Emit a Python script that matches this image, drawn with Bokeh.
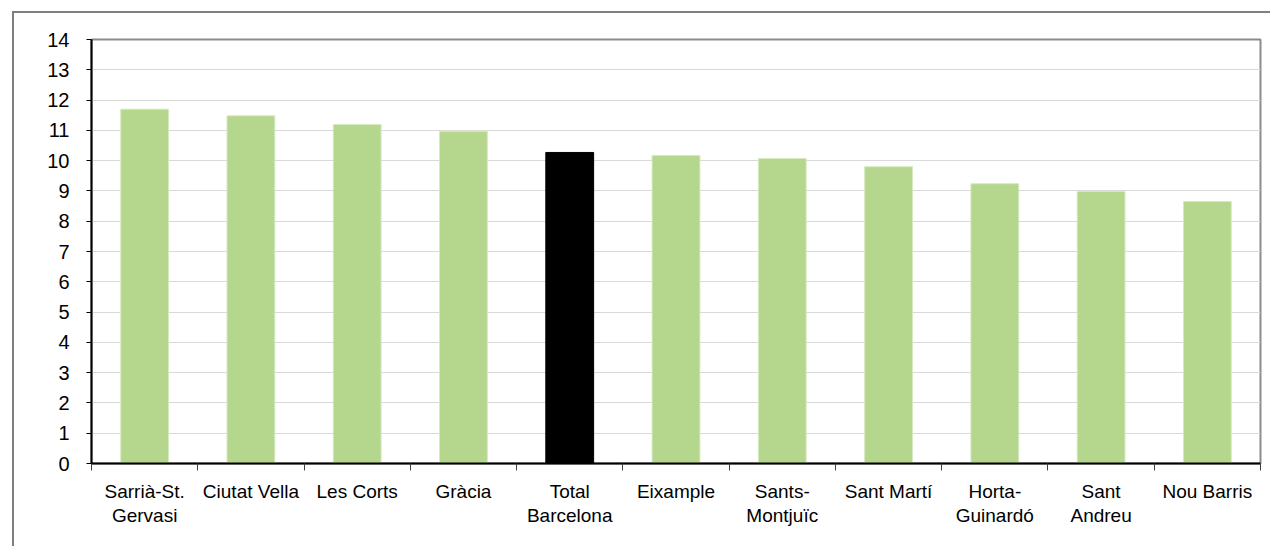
from bokeh.plotting import figure
from bokeh.models import (Range1d, FixedTicker, ColumnDataSource)
from bokeh.embed import file_html
from bokeh.resources import INLINE

# ---- data ----
districts = ["Sarrià-St.\nGervasi", "Ciutat Vella", "Les Corts", "Gràcia", "Total\nBarcelona",
             "Eixample", "Sants-\nMontjuïc", "Sant Martí", "Horta-\nGuinardó", "Sant\nAndreu",
             "Nou Barris"]
values = [11.70, 11.48, 11.19, 10.97, 10.27, 10.17, 10.07, 9.80, 9.24, 8.98, 8.65]
y_ticks = list(range(0, 15))

# ---- styling ----
GREEN = "#B4D78D"
GREEN_EDGE = "#D6EAC2"
FONT = "Liberation Sans"

n = len(districts)
centers = [i + 0.5 for i in range(n)]
bounds = list(range(n + 1))
fill = ["#000000" if d.startswith("Total") else GREEN for d in districts]
edge = ["#000000" if d.startswith("Total") else GREEN_EDGE for d in districts]
src = ColumnDataSource(dict(x=centers, value=values, fill=fill, edge=edge))

W, H = 1258, 535
p = figure(x_range=Range1d(0, n), y_range=Range1d(0, 14),
           width=W, height=H, output_backend="svg", toolbar_location=None,
           min_border_left=77, min_border_right=12, min_border_top=26, min_border_bottom=85)
# outer chart border (left/top visible; right/bottom lie beyond the window)
p.styles = {"margin-left": "12px", "margin-top": "11px",
            "border-left": "2px solid #7f7f7f", "border-top": "2px solid #7f7f7f"}

p.vbar(x="x", top="value", width=0.45, source=src,
       fill_color="fill", line_color="edge", line_width=1)

# frame
p.outline_line_color = "#8c8c8c"
p.outline_line_width = 2
p.background_fill_color = "white"
p.border_fill_color = "white"

# y axis
yax = p.yaxis[0]
yax.ticker = FixedTicker(ticks=y_ticks)
yax.axis_line_color = "black"
yax.axis_line_width = 2
yax.major_tick_line_color = "black"
yax.major_tick_out = 5
yax.major_tick_in = 0
yax.minor_tick_line_color = None
yax.major_label_standoff = 17
yax.major_label_text_font = FONT
yax.major_label_text_font_size = "20px"
yax.major_label_text_color = "black"

p.ygrid.grid_line_color = "#d9d9d9"
p.ygrid.grid_line_width = 1
p.xgrid.grid_line_color = None

# x axis: labels at bar centres, separator ticks at category boundaries
xax = p.xaxis[0]
xax.ticker = FixedTicker(ticks=centers, minor_ticks=bounds)
xax.major_label_overrides = {c: d for c, d in zip(centers, districts)}
xax.major_tick_line_color = None
xax.major_tick_out = 0
xax.major_tick_in = 0
xax.minor_tick_line_color = "#404040"
xax.minor_tick_out = 7
xax.minor_tick_in = 0
xax.axis_line_color = "black"
xax.axis_line_width = 2
xax.major_label_standoff = 10
xax.major_label_text_font = FONT
xax.major_label_text_font_size = "19px"
xax.major_label_text_color = "black"
xax.major_label_text_line_height = 1.15

open("out.html", "w").write(file_html(p, INLINE))
